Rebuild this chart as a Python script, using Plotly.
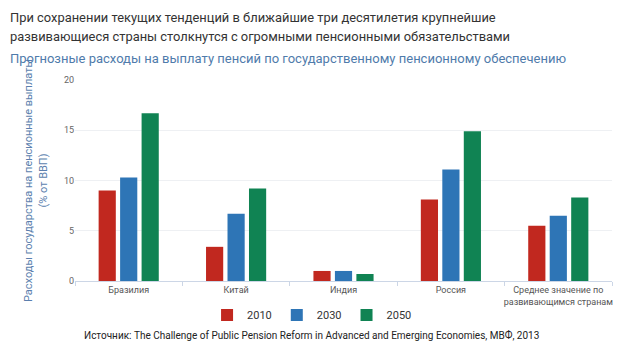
import plotly.graph_objects as go

categories = ["Бразилия", "Китай", "Индия", "Россия", "Среднее значение по<br>развивающимся странам"]
years = ["2010", "2030", "2050"]
v2010 = [9.0, 3.4, 1.0, 8.1, 5.5]
v2030 = [10.3, 6.7, 1.0, 11.1, 6.5]
v2050 = [16.7, 9.2, 0.7, 14.9, 8.3]
colors = ["#c1281f", "#2e75b6", "#108353"]
title_lines = ["При сохранении текущих тенденций в ближайшие три десятилетия крупнейшие",
               "развивающиеся страны столкнутся с огромными пенсионными обязательствами"]
subtitle = "Прогнозные расходы на выплату пенсий по государственному пенсионному обеспечению"
source = "Источник: The Challenge of Public Pension Reform in Advanced and Emerging Economies, МВФ, 2013"

fig = go.Figure()
for name, vals, c in zip(years, [v2010, v2030, v2050], colors):
    fig.add_trace(go.Bar(x=categories, y=vals, name=name, marker_color=c,
                         marker_line_width=0))

L, R, T, B = 74.5, 7.5, 80, 68
PW, PH = 620 - L - R, 349 - T - B
TF = "Roboto"

fig.update_layout(
    width=620, height=349,
    margin=dict(l=L, r=R, t=T, b=B, autoexpand=False),
    paper_bgcolor="white", plot_bgcolor="white",
    font=dict(family="Roboto", size=10, color="#555"),
    barmode="group", bargap=0.4, bargroupgap=0.2,
    showlegend=True,
    legend=dict(orientation="h", x=(312 - L) / PW, xref="paper", xanchor="center",
                y=-(315 - (T + PH)) / PH, yanchor="middle", font=dict(size=11, color="#333"),
                itemwidth=30, traceorder="normal", tracegroupgap=0),
    xaxis=dict(tickson="boundaries", ticks="outside", ticklen=4, tickcolor="#ccd6e6",
               showline=True, linecolor="#ccd6e6", linewidth=1, tickangle=0,
               tickfont=dict(size=9, color="#555"), showgrid=False),
    yaxis=dict(range=[0, 20], tickvals=[0, 5, 10, 15, 20], gridcolor="#eef0f3",
               zeroline=False, tickfont=dict(size=9, color="#666"), ticks="",
               title=dict(text="Расходы государства на пенсионные выплаты<br>(% от ВВП)",
                          font=dict(size=11, color="#5b7fae"), standoff=14)),
)
for i, line in enumerate(title_lines):
    fig.add_annotation(text=line, xref="paper", yref="paper",
                       x=-(L - 7) / PW, y=1 + (T - (17 + 20 * i)) / PH,
                       xanchor="left", yanchor="middle", showarrow=False, align="left",
                       font=dict(family=TF, size=12.9, color="#333"))
fig.add_annotation(text=subtitle,
                   xref="paper", yref="paper", x=-(L - 7) / PW, y=1 + (T - 58) / PH,
                   xanchor="left", yanchor="middle", showarrow=False, align="left",
                   font=dict(family=TF, size=13.0, color="#4f7bab"))
fig.add_annotation(text=source,
                   xref="paper", yref="paper", x=(311 - L) / PW, y=-(335 - (T + PH)) / PH,
                   xanchor="center", yanchor="middle", showarrow=False,
                   font=dict(family="Roboto", size=10, color="#222"))
fig.write_html("out.html")
